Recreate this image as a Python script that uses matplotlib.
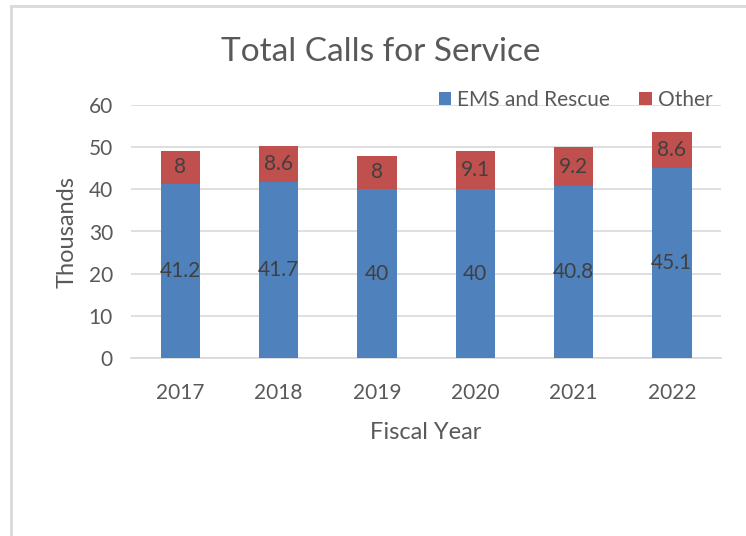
import matplotlib.pyplot as plt
from matplotlib.lines import Line2D
import numpy as np

plt.rcParams['font.family'] = ['Lato', 'DejaVu Sans']

years = ['2017', '2018', '2019', '2020', '2021', '2022']
ems = [41.2, 41.7, 40, 40, 40.8, 45.1]
other = [8, 8.6, 8, 9.1, 9.2, 8.6]
ems_labels = ['41.2', '41.7', '40', '40', '40.8', '45.1']
other_labels = ['8', '8.6', '8', '9.1', '9.2', '8.6']

blue = '#4f81bd'
red = '#c0504d'
grey = '#595959'

fig = plt.figure(figsize=(7.46, 5.36), dpi=100)
ax = fig.add_axes([131/746, 1 - 358/536, 590/746, 253/536])

x = np.arange(len(years))
b1 = ax.bar(x, ems, width=0.4, color=blue, label='EMS and Rescue', zorder=3)
b2 = ax.bar(x, other, width=0.4, bottom=ems, color=red, label='Other', zorder=3)
ax.bar_label(b1, labels=ems_labels, label_type='center', fontsize=15, color='#404040')
ax.bar_label(b2, labels=other_labels, label_type='center', fontsize=15, color='#404040')

ax.set_xlim(-0.5, len(years) - 0.5)
ax.set_ylim(0, 60)
ax.set_yticks(range(0, 61, 10))
ax.set_xticks(x)
ax.set_xticklabels(years)
ax.yaxis.grid(True, color='#d9d9d9', linewidth=1.2, zorder=0)
for s in ['top', 'right', 'left']:
    ax.spines[s].set_visible(False)
ax.spines['bottom'].set_color('#d9d9d9')
ax.spines['bottom'].set_linewidth(1.2)
ax.tick_params(axis='both', length=0, labelsize=15, colors=grey)
ax.tick_params(axis='x', pad=18)
ax.tick_params(axis='y', pad=13)

ax.set_xlabel('Fiscal Year', fontsize=17, color=grey, labelpad=14)
ax.set_ylabel('Thousands', fontsize=17, color=grey, labelpad=8)

fig.text(381/746, 1 - 52/536, 'Total Calls for Service', fontsize=24,
         color=grey, ha='center', va='center')

ax.legend(loc='center right', bbox_to_anchor=(1.0, 1.02), ncol=2, frameon=False,
          fontsize=15, labelcolor=grey, handlelength=0.6, handleheight=0.6,
          handletextpad=0.3, columnspacing=1.4, borderaxespad=0)

fig.add_artist(Line2D([11/746, 11/746], [0, 1 - 6/536], color='#d9d9d9', linewidth=2))
fig.add_artist(Line2D([11/746, 1], [1 - 6/536, 1 - 6/536], color='#d9d9d9', linewidth=2))

fig.savefig('out.png', dpi=100)
